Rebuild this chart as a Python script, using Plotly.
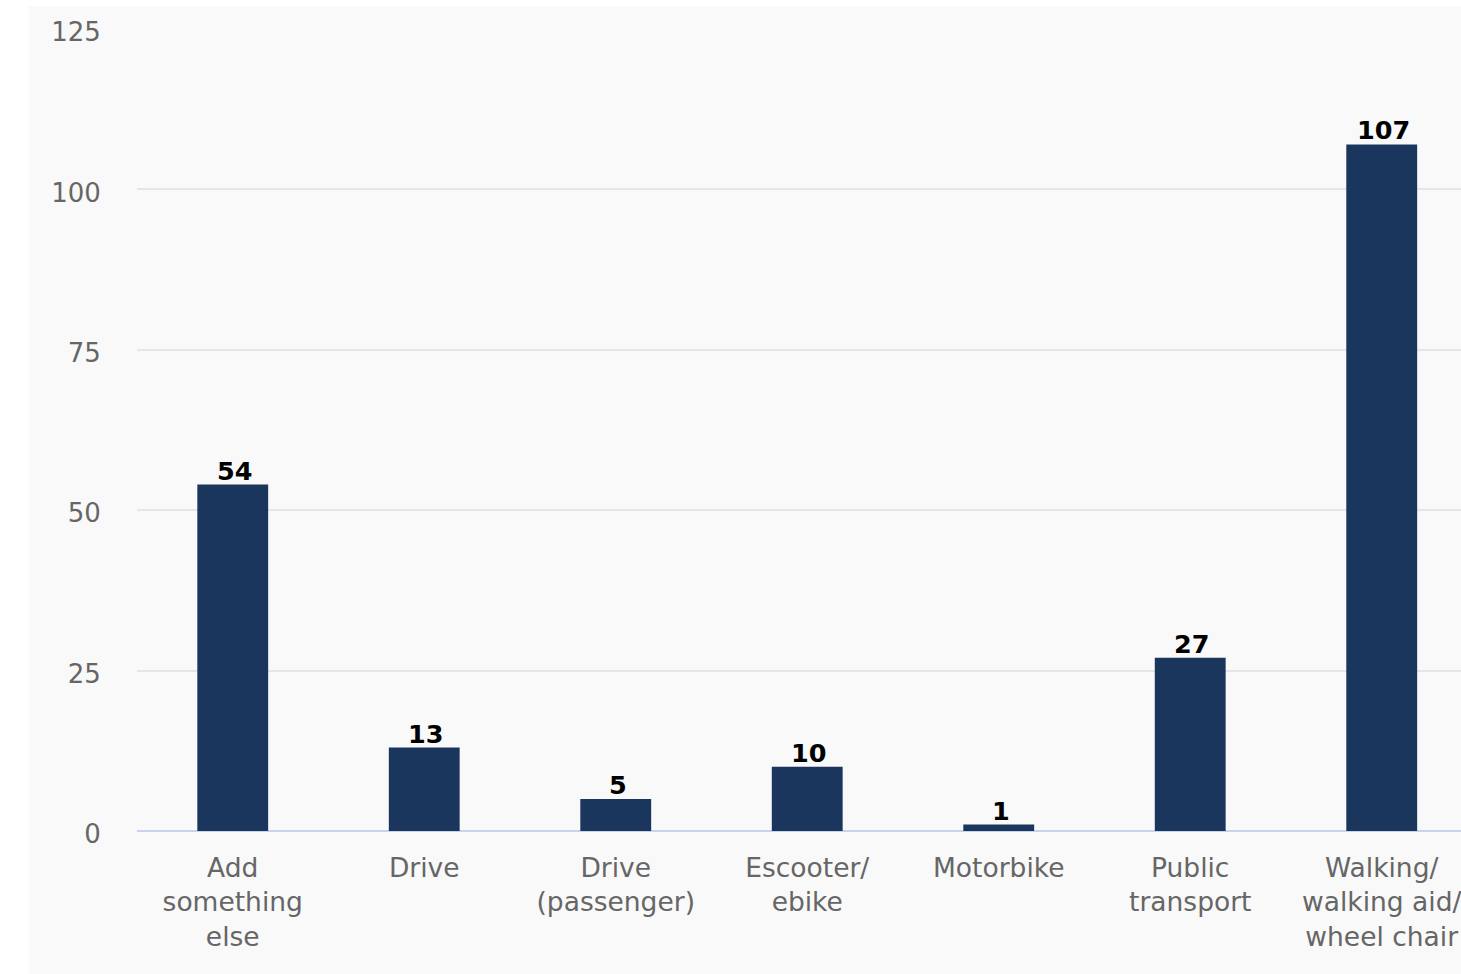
import plotly.graph_objects as go

categories = ["Add<br>something<br>else", "Drive", "Drive<br>(passenger)", "Escooter/<br>ebike",
              "Motorbike", "Public<br>transport", "Walking/<br>walking aid/<br>wheel chair"]
values = [54, 13, 5, 10, 1, 27, 107]
y_ticks = [0, 25, 50, 75, 100, 125]

W, H = 1461, 974
ml, mt = 137, 29
plot_bottom = 831
mb = H - plot_bottom
pw = W - ml
ph = plot_bottom - mt

xs = list(range(len(categories)))

fig = go.Figure(go.Bar(
    x=xs, y=values,
    marker=dict(color="#1b365d", line=dict(width=0)),
    width=0.37,
    hoverinfo="x+y",
))

for xi, v in zip(xs, values):
    fig.add_annotation(
        x=xi, y=v, text=f"<b>{v}</b>", showarrow=False,
        xanchor="center", yanchor="bottom", yshift=-3, xshift=2,
        font=dict(family="DejaVu Sans", size=25.5, color="#000000"),
    )

fig.update_layout(
    width=W, height=H,
    margin=dict(l=ml, r=0, t=mt, b=mb, pad=0),
    paper_bgcolor="#ffffff",
    plot_bgcolor="rgba(0,0,0,0)",
    font=dict(family="DejaVu Sans", size=26, color="#666666"),
    showlegend=False,
    shapes=[dict(type="rect", xref="paper", yref="paper",
                 x0=(29 - ml) / pw, x1=1.05,
                 y0=-(mb + 20) / ph, y1=1 + (mt - 6) / ph,
                 fillcolor="#f9f9f9", line=dict(width=0), layer="below")],
)
fig.update_xaxes(
    tickmode="array", tickvals=xs, ticktext=categories,
    range=[-0.5, 6.414], showgrid=False, zeroline=False, showline=False,
    ticks="outside", ticklen=13, tickcolor="rgba(0,0,0,0)",
    tickfont=dict(size=26.5, color="#666666"),
    ticklabeloverflow="allow",
)
fig.update_yaxes(
    range=[0, 125], tickvals=y_ticks, showgrid=True, gridcolor="#e6e6e6", gridwidth=2,
    zeroline=True, zerolinecolor="#c8d4ee", zerolinewidth=2, showline=False,
    ticks="outside", ticklen=30, tickcolor="rgba(0,0,0,0)",
    tickfont=dict(size=26, color="#666666"),
    ticklabelshift=3,
)

fig.write_html("out.html", config={"displayModeBar": False},
               post_script="document.body.style.margin='0';document.body.style.overflow='hidden';")
